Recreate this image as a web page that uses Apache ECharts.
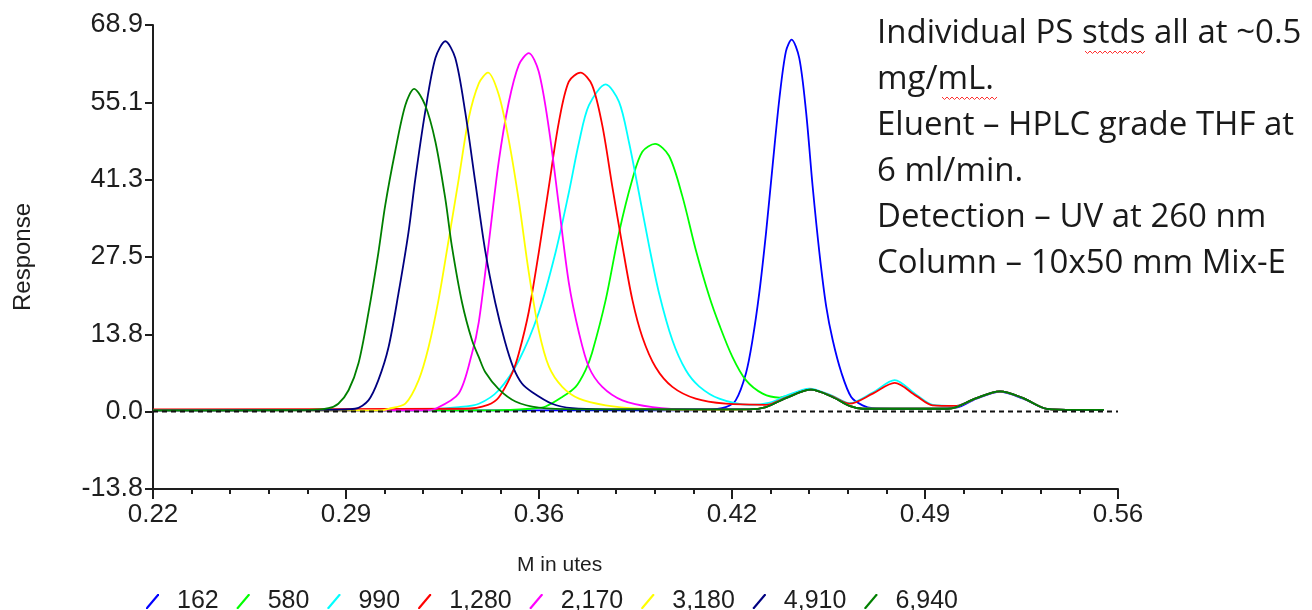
<!DOCTYPE html>
<html>
<head>
<meta charset="utf-8">
<script src="https://cdn.jsdelivr.net/npm/echarts@6/dist/echarts.min.js"></script>
<style>
html,body{margin:0;padding:0;background:#fff;}
#chart{width:1312px;height:610px;}
</style>
</head>
<body>
<div id="chart"></div>
<script>
// ---- data (x = minutes, y = response) ----
const seriesNames = ['162', '580', '990', '1,280', '2,170', '3,180', '4,910', '6,940'];
const xTickLabels = ['0.22', '0.29', '0.36', '0.42', '0.49', '0.56'];
const yTickLabels = ['-13.8', '0.0', '13.8', '27.5', '41.3', '55.1', '68.9'];
const xRange = [0.22, 0.56];
const yRange = [-13.8, 68.9];

const s162 = [[0.22,0.2],[0.30,0.2],[0.40,0.2],[0.415,0.3],[0.4218,0.8],[0.4253,2.0],[0.4289,6.8],[0.4312,12.7],[0.4336,21.1],[0.4360,31.9],[0.4383,43.8],[0.4407,55.8],[0.4430,64.2],[0.4450,66.3],[0.4477,63.0],[0.4501,53.4],[0.4524,40.2],[0.4548,28.3],[0.4572,18.7],[0.4595,12.7],[0.4625,7.0],[0.4660,2.6],[0.4700,1.1],[0.4736,0.6],[0.49,0.5],[0.503,0.7],[0.5101,2.3],[0.5184,3.5],[0.5266,2.3],[0.5349,0.5],[0.545,0.3],[0.555,0.3]];
const s580 = [[0.22,0.2],[0.34,0.2],[0.3530,0.5],[0.3583,0.9],[0.3642,2.6],[0.3689,4.4],[0.3724,7.4],[0.3747,10.5],[0.3795,19.9],[0.3842,31.9],[0.3889,41.4],[0.3924,46.3],[0.3969,47.7],[0.4018,45.6],[0.4065,38.4],[0.4112,28.9],[0.4160,20.5],[0.4195,15.5],[0.4241,9.8],[0.4289,5.6],[0.4348,3.2],[0.4407,2.5],[0.4450,3.0],[0.4518,3.9],[0.4594,2.6],[0.4654,1.0],[0.47,0.5],[0.50,0.5],[0.5030,0.8],[0.5101,2.4],[0.5184,3.6],[0.5266,2.4],[0.5349,0.5],[0.545,0.3],[0.555,0.3]];
const s990 = [[0.22,0.2],[0.31,0.3],[0.3277,0.8],[0.3348,1.4],[0.3418,3.8],[0.3489,9.1],[0.3559,17.6],[0.3618,28.3],[0.3665,39.0],[0.3701,48.0],[0.3736,54.6],[0.3795,58.3],[0.3842,55.2],[0.3877,48.0],[0.3912,39.0],[0.3948,29.5],[0.3983,21.1],[0.4030,12.7],[0.4077,7.4],[0.4124,4.5],[0.4195,2.3],[0.4301,1.2],[0.4374,1.6],[0.4430,2.8],[0.4513,4.1],[0.4594,2.8],[0.4654,1.5],[0.4736,3.4],[0.4813,5.6],[0.4889,3.0],[0.4947,1.2],[0.5030,1.0],[0.5101,2.4],[0.5184,3.6],[0.5266,2.4],[0.5349,0.5],[0.545,0.3],[0.555,0.3]];
const s1280 = [[0.22,0.4],[0.33,0.5],[0.3380,1.2],[0.3418,2.5],[0.3465,6.8],[0.3489,10.4],[0.3524,17.8],[0.3559,28.3],[0.3595,40.2],[0.3630,51.6],[0.3665,58.8],[0.3706,60.4],[0.3747,58.2],[0.3783,51.0],[0.3818,40.2],[0.3854,29.5],[0.3889,19.9],[0.3924,13.3],[0.3971,7.9],[0.4030,4.4],[0.4112,2.3],[0.4218,1.4],[0.4360,1.2],[0.4430,2.5],[0.4518,3.9],[0.4594,2.7],[0.4654,1.4],[0.4736,3.2],[0.4813,5.1],[0.4889,2.8],[0.4947,1.1],[0.5030,1.0],[0.5101,2.4],[0.5184,3.6],[0.5266,2.4],[0.5349,0.5],[0.545,0.3],[0.555,0.3]];
const s2170 = [[0.22,0.2],[0.315,0.2],[0.3195,0.5],[0.3277,3.2],[0.3324,10.4],[0.3348,16.0],[0.3383,30.0],[0.3418,44.5],[0.3453,55.0],[0.3489,61.8],[0.3524,63.9],[0.3559,60.6],[0.3595,50.4],[0.3630,36.7],[0.3665,23.0],[0.3701,14.0],[0.3736,7.9],[0.3783,4.4],[0.3854,2.0],[0.3960,0.8],[0.41,0.4],[0.4300,0.4],[0.4360,0.8],[0.4430,2.4],[0.4518,3.9],[0.4594,2.6],[0.4654,1.0],[0.47,0.5],[0.50,0.5],[0.5030,0.8],[0.5101,2.4],[0.5184,3.6],[0.5266,2.4],[0.5349,0.5],[0.545,0.3],[0.555,0.3]];
const s3180 = [[0.22,0.2],[0.30,0.2],[0.3030,0.5],[0.3089,1.4],[0.3136,5.6],[0.3171,11.5],[0.3206,19.9],[0.3242,30.7],[0.3277,41.4],[0.3312,52.2],[0.3348,58.5],[0.3380,60.4],[0.3418,56.5],[0.3453,48.5],[0.3489,37.5],[0.3524,24.8],[0.3559,14.5],[0.3595,8.0],[0.3642,4.4],[0.3701,2.3],[0.3795,1.1],[0.3912,0.5],[0.41,0.3],[0.4300,0.4],[0.4360,0.8],[0.4430,2.4],[0.4518,3.9],[0.4594,2.6],[0.4654,1.0],[0.47,0.5],[0.50,0.5],[0.5030,0.8],[0.5101,2.4],[0.5184,3.6],[0.5266,2.4],[0.5349,0.5],[0.545,0.3],[0.555,0.3]];
const s4910 = [[0.22,0.2],[0.28,0.3],[0.2912,0.5],[0.2959,2.0],[0.2994,5.6],[0.3030,11.5],[0.3065,21.1],[0.3100,31.9],[0.3124,41.4],[0.3159,53.4],[0.3195,63.0],[0.3230,66.0],[0.3265,63.0],[0.3300,53.4],[0.3336,40.7],[0.3371,28.5],[0.3406,19.4],[0.3440,12.5],[0.3470,7.8],[0.3500,5.0],[0.3535,3.5],[0.3606,1.4],[0.3677,0.6],[0.38,0.4],[0.4300,0.4],[0.4360,0.8],[0.4430,2.4],[0.4518,3.9],[0.4594,2.6],[0.4654,1.0],[0.47,0.5],[0.50,0.5],[0.5030,0.8],[0.5101,2.4],[0.5184,3.6],[0.5266,2.4],[0.5349,0.5],[0.545,0.3],[0.555,0.3]];
const s6940 = [[0.22,0.2],[0.275,0.3],[0.2818,0.6],[0.2853,1.4],[0.2889,3.8],[0.2924,8.6],[0.2959,17.6],[0.2994,28.3],[0.3018,36.7],[0.3053,46.3],[0.3089,54.6],[0.3120,57.5],[0.3159,54.6],[0.3195,48.1],[0.3230,37.9],[0.3253,29.5],[0.3289,19.4],[0.3324,12.7],[0.3348,9.7],[0.3371,7.0],[0.3418,4.0],[0.3477,1.8],[0.3559,0.7],[0.37,0.4],[0.4300,0.4],[0.4360,0.8],[0.4430,2.4],[0.4518,3.9],[0.4594,2.6],[0.4654,1.0],[0.47,0.5],[0.50,0.5],[0.5030,0.8],[0.5101,2.4],[0.5184,3.6],[0.5266,2.4],[0.5349,0.5],[0.545,0.3],[0.555,0.3]];
const baseline = [[0.22, 0], [0.56, 0]];

const noteLines = [
  'Individual PS stds all at ~0.5',
  'mg/mL.',
  'Eluent \u2013 HPLC grade THF at',
  '6 ml/min.',
  'Detection \u2013 UV at 260 nm',
  'Column \u2013 10x50 mm Mix-E'
];
const xTitle = 'M in utes';

// ---- styling ----
const seriesData = [s162, s580, s990, s1280, s2170, s3180, s4910, s6940];
const colors = ['#0000ff', '#00ff00', '#00ffff', '#ff0000', '#ff00ff', '#ffff00', '#000080', '#008000'];
const ink = '#1e1e1e';
const axFont = 'Liberation Sans, Arial, sans-serif';

const chart = echarts.init(document.getElementById('chart'), null, {renderer: 'canvas'});

const series = seriesNames.map((n, i) => ({
  name: n,
  type: 'line',
  xAxisIndex: 0,
  yAxisIndex: 0,
  data: seriesData[i],
  smooth: 0.3,
  showSymbol: false,
  symbol: 'none',
  lineStyle: {color: colors[i], width: 1.8},
  itemStyle: {color: colors[i]},
  z: 3 + i,
  animation: false
}));
series.push({
  name: 'zero',
  type: 'line',
  xAxisIndex: 0,
  yAxisIndex: 0,
  data: baseline,
  symbol: 'none',
  lineStyle: {color: '#111', width: 2, type: [5, 4]},
  z: 20,
  silent: true,
  animation: false
});

function squiggle(x0, x1, y) {
  const pts = [];
  let up = true;
  for (let x = x0; x <= x1; x += 2.5) { pts.push([x, up ? y : y + 2.5]); up = !up; }
  return pts;
}

const legendIcon = 'path://M0,15 L1.6,15 L13,1.6 L13,0 L11.4,0 L0,13.4 Z';

const option = {
  animation: false,
  backgroundColor: '#fff',
  grid: {left: 153, right: 194, top: 25, bottom: 121, containLabel: false},
  xAxis: [
    {type: 'value', min: xRange[0], max: xRange[1], show: false, position: 'bottom'},
    {
      type: 'value', min: 0, max: xTickLabels.length - 1, interval: 1, position: 'bottom',
      axisLine: {show: true, lineStyle: {color: ink, width: 2}},
      axisTick: {show: true, inside: false, length: 10, lineStyle: {color: ink, width: 2}},
      minorTick: {show: true, splitNumber: 5, length: 5, lineStyle: {color: ink, width: 2}},
      splitLine: {show: false},
      axisLabel: {formatter: v => xTickLabels[v], fontSize: 26, color: ink, margin: 13, fontFamily: axFont}
    }
  ],
  yAxis: [
    {type: 'value', min: yRange[0], max: yRange[1], show: false, position: 'left'},
    {
      type: 'value', min: 0, max: yTickLabels.length - 1, interval: 1, position: 'left',
      axisLine: {show: true, lineStyle: {color: ink, width: 2}},
      axisTick: {show: true, inside: false, length: 8, lineStyle: {color: ink, width: 2}},
      splitLine: {show: false},
      axisLabel: {formatter: v => yTickLabels[v], fontSize: 27, color: ink, margin: 10, fontFamily: axFont},
      name: 'Response', nameLocation: 'middle', nameGap: 118, nameRotate: 90,
      nameTextStyle: {fontSize: 24, color: ink, fontFamily: axFont}
    }
  ],
  legend: {
    data: seriesNames,
    left: 141, top: 584,
    itemWidth: 13, itemHeight: 15, itemGap: 18,
    icon: legendIcon,
    textStyle: {fontSize: 25, color: ink, fontFamily: axFont, padding: [0, 0, 0, 13]},
    selectedMode: false
  },
  graphic: [
    {
      type: 'text', left: 517, top: 555, z: 50,
      style: {text: xTitle, font: '21px "Liberation Sans", Arial, sans-serif', fill: ink}
    },
    ...noteLines.map((t, i) => ({
      type: 'text', left: 877, top: 17 + i * 46, z: 50,
      style: {text: t, font: '33px "Open Sans", sans-serif', fill: '#1a1a1a'}
    })),
    {type: 'polyline', z: 51, shape: {points: squiggle(1085, 1147, 51)}, style: {stroke: '#ff3030', lineWidth: 1, fill: null}},
    {type: 'polyline', z: 51, shape: {points: squiggle(942, 997, 97)}, style: {stroke: '#ff3030', lineWidth: 1, fill: null}}
  ],
  series: series
};
chart.setOption(option);
</script>
</body>
</html>
